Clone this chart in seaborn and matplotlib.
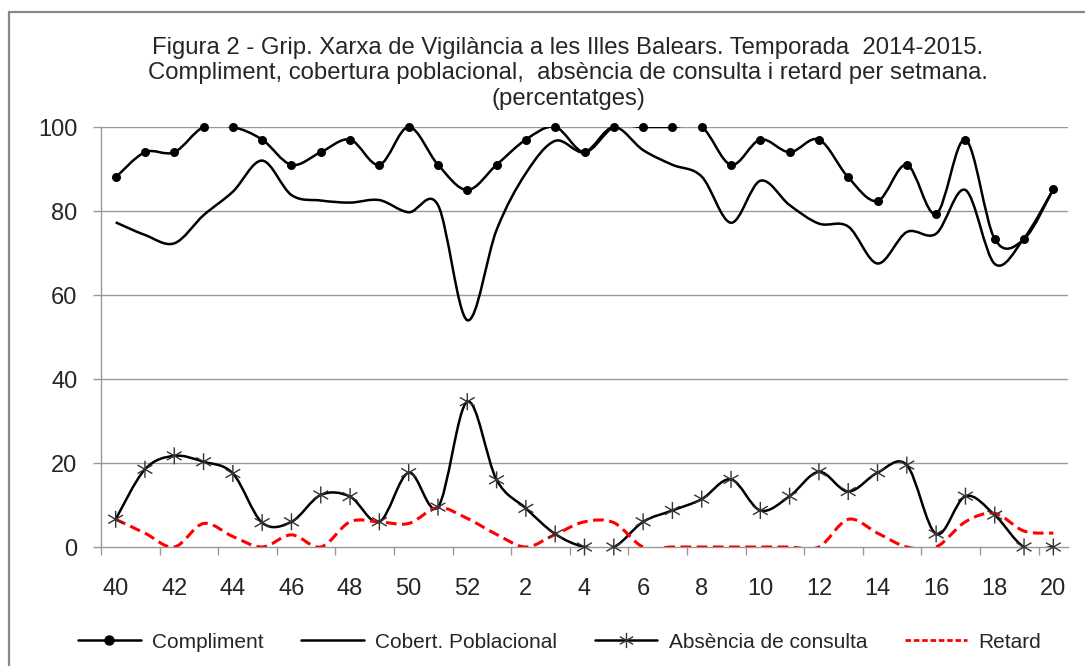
import numpy as np
import matplotlib
matplotlib.use("Agg")
import matplotlib.pyplot as plt
import seaborn as sns
from matplotlib.path import Path
from matplotlib.patches import PathPatch, Rectangle
from matplotlib.lines import Line2D

# week numbers, season 2014-2015
weeks = list(range(40, 53)) + list(range(1, 21))
tick_weeks = weeks[::2]

compliment = [88, 94, 94, 100, 100, 97, 91, 94, 97, 91, 100, 91, 85, 91, 97, 100,
              94, 100, 100, 100, 100, 91, 97, 94, 97, 88, 82.4, 91, 79.3, 97, 73.3, 73.3, 85.2]
cobertura = [77.3, 74.3, 72.3, 79, 84.6, 92, 83.8, 82.5, 82, 82.6, 79.7, 81.4, 54, 75.5, 89, 96.7,
             94, 100, 94.5, 91, 88.2, 77.2, 87.2, 81.4, 77, 76.3, 67.5, 75, 74.6, 85, 67.4, 73.5, 85.2]
absencia = [6.6, 18.5, 21.7, 20.3, 17.5, 5.8, 6, 12.4, 12, 6, 17.7, 9.5, 34.6, 16, 9.2, 3.1,
            0, 0, 6, 8.7, 11.4, 16.1, 8.7, 12.1, 17.9, 13.2, 17.7, 19.5, 3.1, 12.1, 7.6, 0, 0]
retard = [6.6, 3.3, 0, 5.6, 2.5, 0, 2.9, 0, 6, 6, 5.6, 9.4, 6.8, 3, 0, 3,
          6, 5.8, 0, 0, 0, 0, 0, 0, 0, 6.6, 3.3, 0, 0, 6, 8, 3.8, 3.3]

title = ("Figura 2 - Grip. Xarxa de Vigilància a les Illes Balears. Temporada  2014-2015.\n"
         "Compliment, cobertura poblacional,  absència de consulta i retard per setmana.\n"
         "(percentatges)")
labels = ["Compliment", "Cobert. Poblacional", "Absència de consulta", "Retard"]

sns.set_theme(style="white")
plt.rcParams["font.family"] = ["Liberation Sans", "DejaVu Sans"]

x = np.arange(len(weeks))


def smooth(xs, ys):
    # excel-like smoothed line: bezier segments through the data points
    pts = np.column_stack([xs, ys]).astype(float)
    n = len(pts)
    verts = [pts[0]]
    codes = [Path.MOVETO]
    for i in range(n - 1):
        p0 = pts[i - 1] if i > 0 else pts[i]
        p3 = pts[i + 2] if i + 2 < n else pts[i + 1]
        verts += [pts[i] + (pts[i + 1] - p0) / 6, pts[i + 1] - (p3 - pts[i]) / 6, pts[i + 1]]
        codes += [Path.CURVE4] * 3
    return Path(verts, codes)


star = Path([(0, -1), (0, 1), (-0.87, -0.5), (0.87, 0.5), (-0.87, 0.5), (0.87, -0.5)],
            [Path.MOVETO, Path.LINETO] * 3)

fig = plt.figure(figsize=(10.85, 6.66), dpi=100)
ax = fig.add_axes([101 / 1085, 119 / 666, 967 / 1085, 420 / 666])

grid_c = "#999999"
ax.patch.set_alpha(0)
for v in [20, 40, 60, 80, 100]:
    ax.axhline(v, color=grid_c, lw=1.0, zorder=1)

ax.add_patch(PathPatch(smooth(x, cobertura), fill=False, color="black", lw=1.8, zorder=3))
ax.add_patch(PathPatch(smooth(x, compliment), fill=False, color="black", lw=1.8, zorder=3))
ax.add_patch(PathPatch(smooth(x, absencia), fill=False, color="black", lw=1.8, zorder=3))
ax.add_patch(PathPatch(smooth(x, retard), fill=False, edgecolor="red", lw=2.2,
                       linestyle=(0, (3.5, 1.8)), zorder=4))

sns.scatterplot(x=x, y=compliment, ax=ax, color="black", s=42, marker="o",
                edgecolor="black", linewidth=0, zorder=5, clip_on=False)
sns.scatterplot(x=x, y=absencia, ax=ax, marker=star, s=150, facecolor="none",
                edgecolor="#333333", linewidth=1.0, zorder=5, clip_on=False)

ax.set_xlim(-0.5, len(weeks) - 0.5)
ax.set_ylim(0, 100)
ax.set_yticks([0, 20, 40, 60, 80, 100])
ax.set_xticks(x[::2])
ax.set_xticklabels([str(w) for w in tick_weeks])
ax.set_xticks(np.arange(-0.5, len(weeks), 2), minor=True)
ax.tick_params(axis="y", labelsize=17, length=6, width=1, color=grid_c, pad=11, left=True)
ax.tick_params(axis="x", which="major", labelsize=17, length=0, pad=22)
ax.tick_params(axis="x", which="minor", length=6, width=1, color=grid_c, bottom=True)
for s in ["top", "right"]:
    ax.spines[s].set_visible(False)
for s in ["left", "bottom"]:
    ax.spines[s].set_color(grid_c)
    ax.spines[s].set_linewidth(1.0)
ax.set_xlabel("")
ax.set_ylabel("")

fig.text(568 / 1085, 1 - 37 / 666, title, ha="center", va="top", fontsize=17.2,
         linespacing=1.2, multialignment="center")

handles = [
    Line2D([], [], color="black", lw=1.8, marker="o", markersize=6.5),
    Line2D([], [], color="black", lw=1.8),
    Line2D([], [], color="black", lw=1.8, marker=star, markersize=11, markerfacecolor="none",
           markeredgecolor="#333333", markeredgewidth=1.0),
    Line2D([], [], color="red", lw=2.0, linestyle=(0, (2, 1))),
]
fig.legend(handles, labels, loc="center left", bbox_to_anchor=(78 / 1085, 1 - 642 / 666),
           ncol=4, frameon=False, fontsize=15,
           handlelength=3.0, handletextpad=0.55, columnspacing=1.8, borderaxespad=0,
           borderpad=0)

fig.patches.append(Rectangle((9 / 1085, -0.1), 1.2, 1 - 12 / 666 + 0.1, transform=fig.transFigure,
                             fill=False, edgecolor="#888888", lw=1.6))

fig.savefig("out.png", dpi=100)
